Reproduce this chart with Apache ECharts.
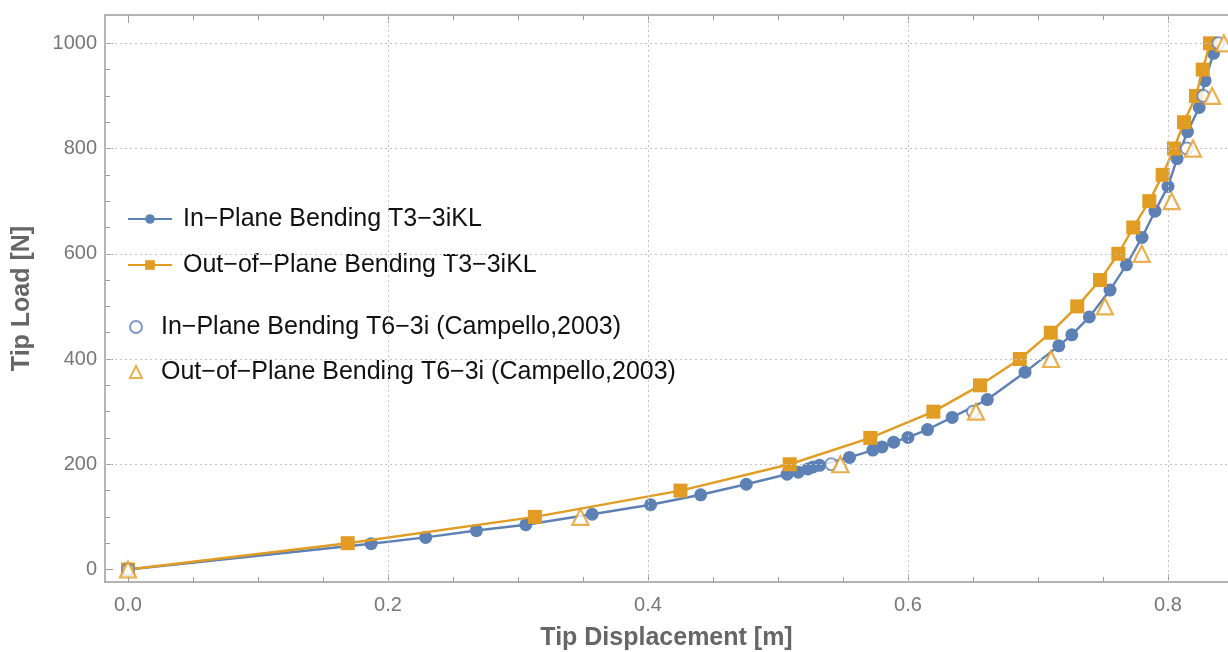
<!DOCTYPE html>
<html><head><meta charset="utf-8">
<script src="https://cdn.jsdelivr.net/npm/echarts@6/dist/echarts.min.js"></script>
<style>html,body{margin:0;padding:0;background:#fff}#c{width:1228px;height:652px}</style>
</head><body><div id="c"></div>
<script>
// ---- data ----
const inPlaneT3X = [0, 0.187, 0.229, 0.268, 0.306, 0.357, 0.402, 0.4405, 0.4756, 0.507, 0.5156, 0.523, 0.527, 0.532, 0.555, 0.573, 0.580, 0.589, 0.600, 0.615, 0.634, 0.661, 0.690, 0.716, 0.726, 0.7395, 0.7554, 0.768, 0.780, 0.790, 0.800, 0.807, 0.815, 0.824, 0.8285, 0.835];
const inPlaneT3Y = [0, 49, 61, 74, 85, 105, 123, 142, 162, 181, 185, 191, 195, 198, 213, 227, 233, 242, 251, 266, 289, 323, 375, 425, 446, 480, 531, 579, 631, 681, 728, 781, 832, 878, 929, 981];
const outPlaneT3X = [0, 0.169, 0.313, 0.425, 0.509, 0.571, 0.6195, 0.6554, 0.686, 0.7098, 0.7302, 0.7477, 0.7618, 0.7733, 0.7856, 0.7959, 0.8046, 0.8123, 0.8215, 0.8267, 0.8323];
const outPlaneT3Y = [0, 50, 100, 150, 200, 250, 300, 350, 400, 450, 500, 550, 600, 650, 700, 750, 800, 850, 900, 950, 1000];
const campelloInX = [0, 0.541, 0.650, 0.8144, 0.8272, 0.8387];
const campelloInY = [0, 200, 300, 800, 900, 1000];
const campelloOutX = [0, 0.348, 0.548, 0.6523, 0.710, 0.7515, 0.7798, 0.8028, 0.8192, 0.834, 0.843];
const campelloOutY = [0, 100, 200, 300, 400, 500, 600, 700, 800, 900, 1000];
const xGridValues = [0.2, 0.4, 0.6, 0.8];
const yGridValues = [200, 400, 600, 800, 1000];
const seriesNames = [
  'In\u2212Plane Bending T3\u22123iKL',
  'Out\u2212of\u2212Plane Bending T3\u22123iKL',
  'In\u2212Plane Bending T6\u22123i (Campello,2003)',
  'Out\u2212of\u2212Plane Bending T6\u22123i (Campello,2003)'
];
const xAxisTitle = 'Tip Displacement [m]';
const yAxisTitle = 'Tip Load [N]';

// ---- layout ----
const X0 = 128, XS = 1300, Y0 = 569.5, YS = 0.5262;
const FRAME_L = 105, FRAME_T = 15, FRAME_B = 582, W = 1228, H = 652;
const XMIN = (FRAME_L - X0) / XS, XMAX = (W - X0) / XS;
const YMIN = -(FRAME_B - Y0) / YS, YMAX = (Y0 - FRAME_T) / YS;
const BLUE = '#5E81B5', ORANGE = '#E19C24';
const FRAME_COL = '#9c9c9c', GRID_COL = '#c4c4c4', LABEL_COL = '#777';
const FONT = 'Liberation Sans, Arial, sans-serif';

const zip = (a, b) => a.map((v, i) => [v, b[i]]);

const chart = echarts.init(document.getElementById('c'), null, {renderer: 'canvas'});
const frameAxis = (pos) => ({
  type: 'value', gridIndex: 0, position: pos, min: XMIN, max: XMAX,
  axisLine: {show: true, onZero: false, lineStyle: {color: FRAME_COL, width: 1.5}},
  axisTick: {show: false}, axisLabel: {show: false}, splitLine: {show: false}
});
const tickStyle = {
  axisLine: {show: false, onZero: false},
  axisTick: {show: true, inside: true, length: 8, lineStyle: {color: FRAME_COL, width: 1}},
  minorTick: {show: true, splitNumber: 4, length: 5, lineStyle: {color: FRAME_COL, width: 1}},
  splitLine: {show: false}
};
const LEG_FONT = 25;

chart.setOption({
  animation: false,
  backgroundColor: '#fff',
  grid: [
    {left: FRAME_L, right: 0, top: FRAME_T, bottom: H - FRAME_B, containLabel: false, outerBoundsMode: 'none'},
    {left: X0, right: W - (X0 + 0.8 * XS), top: Y0 - 1000 * YS, bottom: H - Y0, containLabel: false, outerBoundsMode: 'none'}
  ],
  xAxis: [
    Object.assign(frameAxis('bottom'), {
      name: xAxisTitle, nameLocation: 'middle', nameGap: 44,
      nameTextStyle: {fontFamily: FONT, fontSize: 25, fontWeight: 'bold', color: '#666'}
    }),
    frameAxis('top'),
    Object.assign({type: 'value', gridIndex: 1, position: 'bottom', offset: FRAME_B - Y0,
      min: 0, max: 0.8, interval: 0.2,
      axisLabel: {show: true, margin: 13, color: LABEL_COL, fontFamily: FONT, fontSize: 20,
        formatter: v => v.toFixed(1)}}, tickStyle),
    Object.assign({type: 'value', gridIndex: 1, position: 'top', offset: (Y0 - 1000 * YS) - FRAME_T,
      min: 0, max: 0.8, interval: 0.2, axisLabel: {show: false}}, tickStyle)
  ],
  yAxis: [
    {type: 'value', gridIndex: 0, position: 'left', min: YMIN, max: YMAX,
      axisLine: {show: true, onZero: false, lineStyle: {color: FRAME_COL, width: 1.5}},
      axisTick: {show: false}, axisLabel: {show: false}, splitLine: {show: false},
      name: yAxisTitle, nameLocation: 'middle', nameGap: 70,
      nameTextStyle: {fontFamily: FONT, fontSize: 25, fontWeight: 'bold', color: '#666'}},
    Object.assign({type: 'value', gridIndex: 1, position: 'left', offset: X0 - FRAME_L,
      min: 0, max: 1000, interval: 200,
      axisLabel: {show: true, margin: 8, color: LABEL_COL, fontFamily: FONT, fontSize: 20,
        formatter: v => String(v)}}, tickStyle)
  ],
  legend: [
    {orient: 'vertical', left: 122, top: 201.5, itemWidth: 44, itemHeight: 12, itemGap: 21,
      data: [seriesNames[0], seriesNames[1]],
      textStyle: {fontFamily: FONT, fontSize: LEG_FONT, color: '#111', padding: [0, 0, 0, 6]}},
    {orient: 'vertical', left: 124, top: 309.5, itemWidth: 12, itemHeight: 12, itemGap: 20,
      data: [seriesNames[2], seriesNames[3]],
      textStyle: {fontFamily: FONT, fontSize: LEG_FONT, color: '#111', padding: [0, 0, 0, 14]}}
  ],
  series: [
    {type: 'line', name: '_grid', xAxisIndex: 0, yAxisIndex: 0, data: [], z: 1, silent: true,
      markLine: {silent: true, symbol: 'none', label: {show: false}, animation: false,
        lineStyle: {color: GRID_COL, type: [2, 3], width: 1},
        data: xGridValues.map(v => ({xAxis: v})).concat(yGridValues.map(v => ({yAxis: v})))}},
    {type: 'line', name: seriesNames[0], xAxisIndex: 0, yAxisIndex: 0, z: 3,
      data: zip(inPlaneT3X, inPlaneT3Y), symbol: 'circle', symbolSize: 13, showSymbol: true,
      lineStyle: {color: BLUE, width: 2.4}, itemStyle: {color: BLUE}},
    {type: 'line', name: seriesNames[1], xAxisIndex: 0, yAxisIndex: 0, z: 4,
      data: zip(outPlaneT3X, outPlaneT3Y), symbol: 'rect', symbolSize: 14, showSymbol: true,
      lineStyle: {color: ORANGE, width: 2.4}, itemStyle: {color: ORANGE}},
    {type: 'scatter', name: seriesNames[2], xAxisIndex: 0, yAxisIndex: 0, z: 5,
      data: zip(campelloInX, campelloInY), symbol: 'circle', symbolSize: 12,
      itemStyle: {color: '#fff', borderColor: BLUE, borderWidth: 2}},
    {type: 'scatter', name: seriesNames[3], xAxisIndex: 0, yAxisIndex: 0, z: 6,
      data: zip(campelloOutX, campelloOutY), symbol: 'triangle', symbolSize: 16,
      itemStyle: {color: '#fff', borderColor: ORANGE, borderWidth: 2.2}}
  ]
});
</script></body></html>
